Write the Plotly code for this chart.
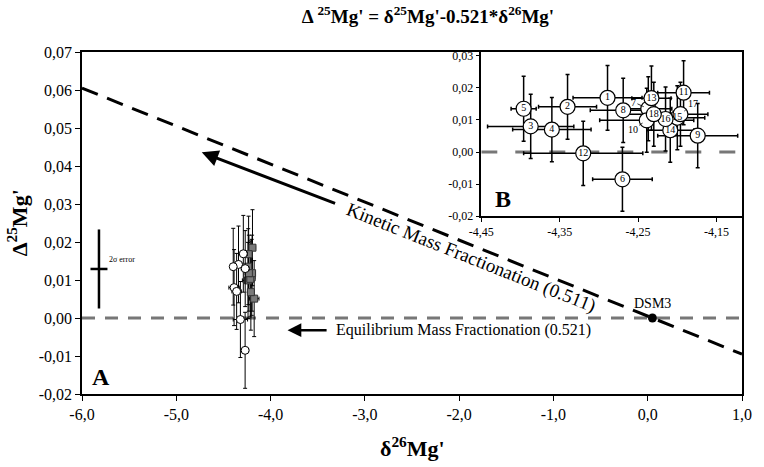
import plotly.graph_objects as go

# ---------------- data ----------------
sample_ids = ["1", "2", "3", "4", "5", "6", "7", "8", "9", "10", "11", "12", "13", "14", "15", "16", "17", "18"]
d26 = [-4.289, -4.340, -4.387, -4.360, -4.396, -4.270, -4.237, -4.269, -4.174, -4.239,
       -4.192, -4.320, -4.233, -4.209, -4.200, -4.215, -4.196, -4.230]
cap25 = [0.0169, 0.0141, 0.0080, 0.0070, 0.0135, -0.0085, 0.0135, 0.0130, 0.0051, 0.0099,
         0.0185, -0.0004, 0.0168, 0.0068, 0.0107, 0.0103, 0.0118, 0.0118]
err_d26 = [0.044, 0.037, 0.055, 0.050, 0.016, 0.038, 0.030, 0.042, 0.051, 0.060,
           0.033, 0.076, 0.025, 0.030, 0.035, 0.025, 0.035, 0.040]
err_cap25 = [0.0101, 0.0101, 0.0100, 0.0100, 0.0101, 0.0100, 0.0100, 0.0100, 0.0100, 0.0100,
             0.0100, 0.0100, 0.0100, 0.0100, 0.0100, 0.0100, 0.0100, 0.0100]
group_open = ["1", "2", "3", "4", "5", "6", "8", "12"]   # white symbols in panel A

kinetic_x = [-6.0, 1.0]
kinetic_y = [0.0605, -0.0095]
equil_x = [-6.0, 1.0]
equil_y = [0.0, 0.0]
dsm3_x = [0.05]
dsm3_y = [0.0]
sigma_x = [-5.82]
sigma_y = [0.0129]
sigma_ex = [0.09]
sigma_ey = [0.0104]

x_ticks = [-6, -5, -4, -3, -2, -1, 0, 1]
x_tick_labels = ["-6,0", "-5,0", "-4,0", "-3,0", "-2,0", "-1,0", "0,0", "1,0"]
y_ticks = [-0.02, -0.01, 0.0, 0.01, 0.02, 0.03, 0.04, 0.05, 0.06, 0.07]
y_tick_labels = ["-0,02", "-0,01", "0,00", "0,01", "0,02", "0,03", "0,04", "0,05", "0,06", "0,07"]

inset_xrange = [-4.45, -4.1175]
inset_yrange = [-0.02, 0.0312]
inset_x_ticks = [-4.45, -4.35, -4.25, -4.15]
inset_x_tick_labels = ["-4,45", "-4,35", "-4,25", "-4,15"]
inset_y_ticks = [-0.02, -0.01, 0.0, 0.01, 0.02, 0.03]
inset_y_tick_labels = ["-0,02", "-0,01", "0,00", "0,01", "0,02", "0,03"]

FONT = "Times New Roman"

fig = go.Figure()

# reference lines (panel A)
fig.add_trace(go.Scatter(x=equil_x, y=equil_y, mode="lines",
                         line=dict(color="#777777", width=3, dash="13px,10px"),
                         hoverinfo="skip", showlegend=False))
fig.add_trace(go.Scatter(x=kinetic_x, y=kinetic_y, mode="lines",
                         line=dict(color="black", width=3, dash="17px,10px"),
                         hoverinfo="skip", showlegend=False))

# data in panel A
idx_open = [i for i, s in enumerate(sample_ids) if s in group_open]
idx_fill = [i for i, s in enumerate(sample_ids) if s not in group_open]
fig.add_trace(go.Scatter(
    x=[d26[i] for i in idx_fill], y=[cap25[i] for i in idx_fill], mode="markers",
    marker=dict(symbol="square", size=7, color="#7a7a7a", line=dict(color="#333333", width=1)),
    error_x=dict(type="data", array=[err_d26[i] for i in idx_fill], color="black", thickness=1, width=2),
    error_y=dict(type="data", array=[err_cap25[i] for i in idx_fill], color="black", thickness=1, width=2),
    showlegend=False))
fig.add_trace(go.Scatter(
    x=[d26[i] for i in idx_open], y=[cap25[i] for i in idx_open], mode="markers",
    marker=dict(symbol="circle", size=8, color="white", line=dict(color="black", width=1)),
    error_x=dict(type="data", array=[err_d26[i] for i in idx_open], color="black", thickness=1, width=2),
    error_y=dict(type="data", array=[err_cap25[i] for i in idx_open], color="black", thickness=1, width=2),
    showlegend=False))

# DSM3
fig.add_trace(go.Scatter(x=dsm3_x, y=dsm3_y, mode="markers",
                         marker=dict(color="black", size=9), showlegend=False))

# 2 sigma error
fig.add_trace(go.Scatter(x=sigma_x, y=sigma_y, mode="markers",
                         marker=dict(color="black", size=1),
                         error_x=dict(type="data", array=sigma_ex, color="black", thickness=2.5, width=0),
                         error_y=dict(type="data", array=sigma_ey, color="black", thickness=2.5, width=0),
                         showlegend=False))

# ---------------- inset B ----------------
fig.add_trace(go.Scatter(x=inset_xrange, y=[0, 0], mode="lines", xaxis="x2", yaxis="y2",
                         line=dict(color="#777777", width=3, dash="16px,18px"),
                         hoverinfo="skip", showlegend=False))
labels_in = [s if s not in ("7", "10", "17") else "" for s in sample_ids]
fig.add_trace(go.Scatter(
    x=d26, y=cap25, mode="markers+text", xaxis="x2", yaxis="y2",
    text=labels_in, textposition="middle center",
    textfont=dict(family=FONT, size=10, color="black"),
    marker=dict(symbol="circle", size=15, color="white", line=dict(color="black", width=1.2)),
    error_x=dict(type="data", array=err_d26, color="black", thickness=1.5, width=2),
    error_y=dict(type="data", array=err_cap25, color="black", thickness=1.5, width=2),
    cliponaxis=False, showlegend=False))

annotations = []
# leader labels in inset
leader = {"7": (-4.256, 0.0156), "10": (-4.257, 0.0070), "17": (-4.180, 0.0150)}
for s, (tx, ty) in leader.items():
    i = sample_ids.index(s)
    annotations.append(dict(x=d26[i], y=cap25[i], ax=tx, ay=ty, xref="x2", yref="y2",
                            axref="x2", ayref="y2", text=s, showarrow=True, arrowhead=0,
                            arrowwidth=0.8, arrowcolor="black", standoff=5,
                            font=dict(family=FONT, size=10, color="black")))

annotations += [
    dict(x=-5.80, y=-0.0155, xref="x", yref="y", text="<b>A</b>", showarrow=False,
         font=dict(family=FONT, size=24, color="black")),
    dict(x=-4.435, y=-0.0148, xref="x2", yref="y2", text="<b>B</b>", showarrow=False,
         xanchor="left", font=dict(family=FONT, size=24, color="black")),
    dict(x=-5.74, y=0.0153, xref="x", yref="y", text="2σ error", showarrow=False,
         xanchor="left", font=dict(family=FONT, size=8, color="black")),
    dict(x=0.05, y=0.0038, xref="x", yref="y", text="DSM3", showarrow=False,
         font=dict(family=FONT, size=14, color="black")),
    dict(x=-1.87, y=0.0158, xref="x", yref="y", text="Kinetic Mass Fractionation (0.511)",
         showarrow=False, textangle=21.7, font=dict(family=FONT, size=19, color="black")),
    dict(x=-3.33, y=-0.0032, xref="x", yref="y", text="Equilibrium Mass Fractionation (0.521)",
         showarrow=False, xanchor="left", font=dict(family=FONT, size=16, color="black")),
    # arrows
    dict(x=-4.73, y=0.0436, ax=-3.30, ay=0.0300, xref="x", yref="y", axref="x", ayref="y",
         text="", showarrow=True, arrowhead=2, arrowsize=1.1, arrowwidth=3, arrowcolor="black"),
    dict(x=-3.82, y=-0.0032, ax=-3.39, ay=-0.0032, xref="x", yref="y", axref="x", ayref="y",
         text="", showarrow=True, arrowhead=2, arrowsize=1.1, arrowwidth=2.5, arrowcolor="black"),
    # axis titles
    dict(x=-0.098, y=0.5, xref="paper", yref="paper", text="<b>Δ<sup>25</sup>Mg'</b>",
         textangle=-90, showarrow=False, xanchor="center", yanchor="middle",
         font=dict(family=FONT, size=22, color="black")),
    dict(x=0.5, y=-0.155, xref="paper", yref="paper", text="<b>δ<sup>26</sup>Mg'</b>",
         showarrow=False, xanchor="center", yanchor="middle",
         font=dict(family=FONT, size=22, color="black")),
]

axis_common = dict(showgrid=False, zeroline=False, showline=True, linecolor="black",
                   mirror=True, ticks="outside", tickcolor="black", tickmode="array")

fig.update_layout(
    width=764, height=467,
    margin=dict(l=82, r=13, t=52, b=73),
    paper_bgcolor="white", plot_bgcolor="white",
    font=dict(family=FONT, color="black"),
    title=dict(text="<b>Δ <sup>25</sup>Mg' = δ<sup>25</sup>Mg'-0.521*δ<sup>26</sup>Mg'</b>",
               x=428 / 764, xref="container", xanchor="center",
               y=1 - 16 / 467, yref="container", yanchor="middle",
               font=dict(family=FONT, size=19, color="black")),
    xaxis=dict(range=[-6, 1], tickvals=x_ticks, ticktext=x_tick_labels, linewidth=1.5,
               ticklen=5, tickfont=dict(family=FONT, size=16), **axis_common),
    yaxis=dict(range=[-0.02, 0.07], tickvals=y_ticks, ticktext=y_tick_labels, linewidth=1.5,
               ticklen=5, tickfont=dict(family=FONT, size=16), **axis_common),
    xaxis2=dict(domain=[0.605, 1.0], anchor="y2", range=inset_xrange, tickvals=inset_x_ticks,
                ticktext=inset_x_tick_labels, linewidth=1.5, ticklen=4,
                tickfont=dict(family=FONT, size=12), **axis_common),
    yaxis2=dict(domain=[0.52, 1.0], anchor="x2", range=inset_yrange, tickvals=inset_y_ticks,
                ticktext=inset_y_tick_labels, linewidth=1.5, ticklen=4,
                tickfont=dict(family=FONT, size=12), **axis_common),
    shapes=[dict(type="rect", xref="paper", yref="paper", x0=0.605, x1=1.0, y0=0.52, y1=1.0,
                 fillcolor="white", line=dict(width=0), layer="below")],
    annotations=annotations,
)

fig.write_html("out.html", config={"displayModeBar": False},
               post_script="document.body.style.margin='0px';document.body.style.overflow='hidden';")
